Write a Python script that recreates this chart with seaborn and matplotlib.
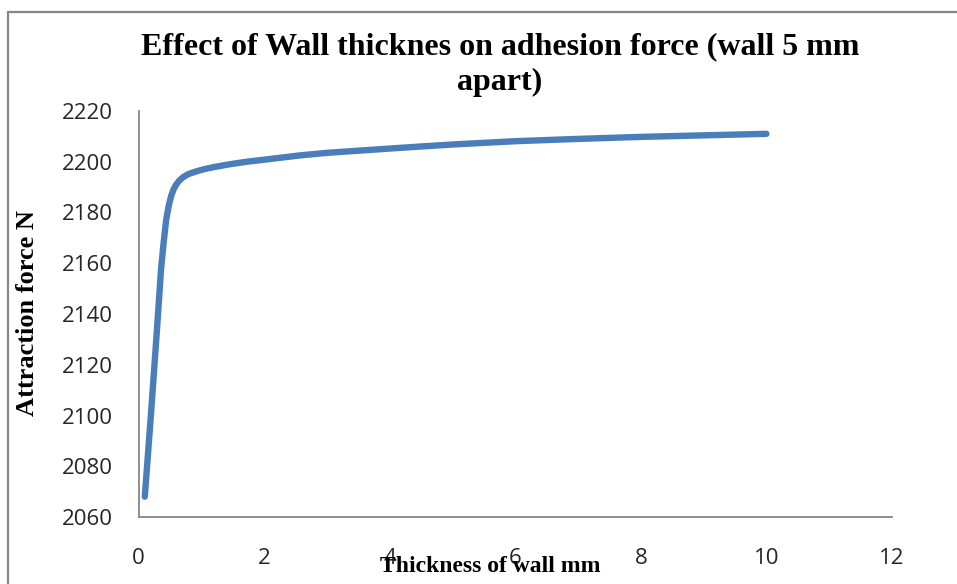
import matplotlib
matplotlib.use("Agg")
import matplotlib.pyplot as plt
import seaborn as sns
import pandas as pd
from matplotlib.lines import Line2D

# Data
thickness_mm = [0.1, 0.2, 0.3, 0.36, 0.4, 0.44, 0.48, 0.52, 0.56, 0.6, 0.65, 0.72, 0.8,
                0.92, 1.05, 1.2, 1.45, 1.72, 2.0, 2.57, 3.0, 4.0, 4.43, 5.0,
                6.0, 7.0, 8.0, 9.0, 10.0]
force_N = [2068, 2101, 2136, 2158, 2168, 2177, 2182.5, 2186.5, 2189.2, 2191, 2192.6, 2194.1, 2195.2,
           2196.2, 2197.1, 2197.9, 2199.0, 2200, 2200.8, 2202.5, 2203.5, 2205.2, 2205.9, 2206.8,
           2208.1, 2209.0, 2209.8, 2210.4, 2211.0]
x_ticks = [0, 2, 4, 6, 8, 10, 12]
y_ticks = [2060, 2080, 2100, 2120, 2140, 2160, 2180, 2200, 2220]

title_text = "Effect of Wall thicknes on adhesion force (wall 5 mm\napart)"
x_label = "Thickness of wall mm"
y_label = "Attraction force N"

df = pd.DataFrame({"thickness": thickness_mm, "force": force_N})

sns.set_theme(style="white")
plt.rcParams["font.family"] = ["Open Sans", "DejaVu Sans"]

fig = plt.figure(figsize=(9.57, 5.84), dpi=100)
ax = fig.add_axes([138.5 / 957, 1 - 517 / 584, (892 - 138.5) / 957, (517 - 111) / 584])

sns.lineplot(data=df, x="thickness", y="force", ax=ax, color="#4a7ebb",
             linewidth=4.6, solid_capstyle="round", solid_joinstyle="round")

ax.set_xlim(0, 12)
ax.set_ylim(2060, 2220)
ax.set_xticks(x_ticks)
ax.set_yticks(y_ticks)
ax.set_xticklabels([str(t) for t in x_ticks])
ax.set_yticklabels([str(t) for t in y_ticks])

for s in ["top", "right"]:
    ax.spines[s].set_visible(False)
for s in ["left", "bottom"]:
    ax.spines[s].set_color("#868686")
    ax.spines[s].set_linewidth(1.3)

ax.tick_params(axis="both", which="major", direction="out", length=7.5, width=1.1,
               color="#868686", labelsize=16, labelcolor="#262626")
ax.tick_params(axis="y", pad=11)
ax.tick_params(axis="x", pad=15)

serif = ["Liberation Serif", "DejaVu Serif"]
ax.set_xlabel(x_label, fontsize=17, fontweight="bold", family=serif, color="black")
ax.xaxis.set_label_coords((490 - 138.5) / 753.5, (517 - 566) / 406)
ax.xaxis.label.set_va("center")
ax.set_ylabel(y_label, fontsize=19, fontweight="bold", family=serif, color="black")
ax.yaxis.set_label_coords((28 - 138.5) / 753.5, (517 - 313) / 406)
ax.yaxis.label.set_va("center")

fig.text(500 / 957, 1 - 65 / 584, title_text, ha="center", va="center",
         multialignment="center", fontsize=23, fontweight="bold", family=serif,
         color="black", linespacing=1.3)

# Chart-area border (top and left visible in the reference crop)
fig.add_artist(Line2D([8 / 957, 8 / 957], [0, 1 - 12 / 584], transform=fig.transFigure,
                      color="#868686", linewidth=1.6))
fig.add_artist(Line2D([8 / 957, 1], [1 - 12 / 584, 1 - 12 / 584], transform=fig.transFigure,
                      color="#868686", linewidth=1.6))

fig.savefig("out.png", dpi=100)
